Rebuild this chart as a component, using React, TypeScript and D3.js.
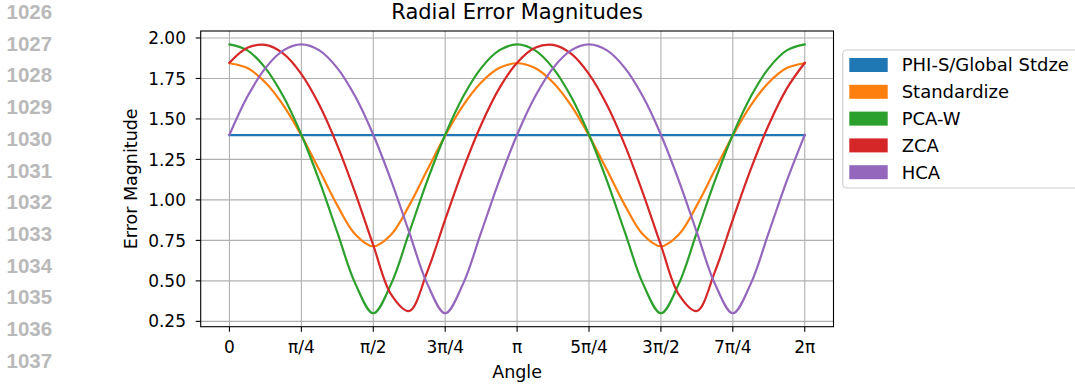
import React from "react";
import * as d3 from "d3";

// Sample angles, in sixteenths of π, from 0 to 2π
const angleSixteenths = [
  0, 1, 2, 3, 4, 5, 6, 7, 8, 9, 10, 11, 12, 13, 14, 15, 16,
  17, 18, 19, 20, 21, 22, 23, 24, 25, 26, 27, 28, 29, 30, 31, 32,
];

const phiS = [
  1.4, 1.4, 1.4, 1.4, 1.4, 1.4, 1.4, 1.4, 1.4, 1.4, 1.4, 1.4, 1.4, 1.4, 1.4, 1.4, 1.4,
  1.4, 1.4, 1.4, 1.4, 1.4, 1.4, 1.4, 1.4, 1.4, 1.4, 1.4, 1.4, 1.4, 1.4, 1.4, 1.4,
];
const standardize = [
  1.844, 1.814, 1.725, 1.584, 1.398, 1.184, 0.966, 0.787, 0.714, 0.787, 0.966, 1.184, 1.398, 1.584, 1.725, 1.814, 1.844,
  1.814, 1.725, 1.584, 1.398, 1.184, 0.966, 0.787, 0.714, 0.787, 0.966, 1.184, 1.398, 1.584, 1.725, 1.814, 1.844,
];
const pcaW = [
  1.96, 1.923, 1.814, 1.638, 1.402, 1.117, 0.799, 0.483, 0.3, 0.483, 0.799, 1.117, 1.402, 1.638, 1.814, 1.923, 1.96,
  1.923, 1.814, 1.638, 1.402, 1.117, 0.799, 0.483, 0.3, 0.483, 0.799, 1.117, 1.402, 1.638, 1.814, 1.923, 1.96,
];
const zca = [
  1.847, 1.939, 1.957, 1.903, 1.777, 1.586, 1.337, 1.042, 0.72, 0.415, 0.314, 0.556, 0.878, 1.19, 1.464, 1.687, 1.847,
  1.939, 1.957, 1.903, 1.777, 1.586, 1.337, 1.042, 0.72, 0.415, 0.314, 0.556, 0.878, 1.19, 1.464, 1.687, 1.847,
];
const hca = [
  1.402, 1.638, 1.814, 1.923, 1.96, 1.923, 1.814, 1.638, 1.402, 1.117, 0.799, 0.483, 0.3, 0.483, 0.799, 1.117, 1.402,
  1.638, 1.814, 1.923, 1.96, 1.923, 1.814, 1.638, 1.402, 1.117, 0.799, 0.483, 0.3, 0.483, 0.799, 1.117, 1.402,
];

const seriesNames = ["PHI-S/Global Stdze", "Standardize", "PCA-W", "ZCA", "HCA"];
const seriesValues = [phiS, standardize, pcaW, zca, hca];
const seriesColors = ["#1f77b4", "#ff7f0e", "#2ca02c", "#d62728", "#9467bd"];

const xTickQuarters = [0, 1, 2, 3, 4, 5, 6, 7, 8];
const xTickLabels = ["0", "π/4", "π/2", "3π/4", "π", "5π/4", "3π/2", "7π/4", "2π"];
const yTicks = [0.25, 0.5, 0.75, 1.0, 1.25, 1.5, 1.75, 2.0];

const lineNumbers = [1026, 1027, 1028, 1029, 1030, 1031, 1032, 1033, 1034, 1035, 1036, 1037, 1038];

const W = 1075;
const H = 385;
const plot = { left: 200.7, top: 31, right: 833.5, bottom: 326.7 };
const FONT = "'DejaVu Sans', sans-serif";

export default function App() {
  const span = 2 * Math.PI;
  const x = d3
    .scaleLinear()
    .domain([-0.05 * span, 1.05 * span])
    .range([plot.left, plot.right]);
  const y = d3.scaleLinear().domain([0.217, 2.043]).range([plot.bottom, plot.top]);

  const line = d3
    .line<number>()
    .x((_, i) => x((angleSixteenths[i] * Math.PI) / 16))
    .y((v) => y(v))
    .curve(d3.curveCatmullRom);

  const midX = (plot.left + plot.right) / 2;
  const midY = (plot.top + plot.bottom) / 2;

  return (
    <div style={{ position: "fixed", left: 0, top: 0 }}>
      <svg width={W} height={H} viewBox={`0 0 ${W} ${H}`} style={{ display: "block", background: "#fff" }}>
        {/* manuscript line numbers */}
        {lineNumbers.map((n, i) => (
          <text
            key={n}
            x={6.5}
            y={11.7 + i * 31.7}
            dy="0.36em"
            fontFamily="'Liberation Sans', Arial, sans-serif"
            fontWeight="bold"
            fontSize={20.5}
            fill="#b9b9b9"
          >
            {n}
          </text>
        ))}

        {/* grid */}
        <g stroke="#b0b0b0" strokeWidth={1.1}>
          {xTickQuarters.map((q) => (
            <line key={"gx" + q} x1={x((q * Math.PI) / 4)} x2={x((q * Math.PI) / 4)} y1={plot.top} y2={plot.bottom} />
          ))}
          {yTicks.map((t) => (
            <line key={"gy" + t} x1={plot.left} x2={plot.right} y1={y(t)} y2={y(t)} />
          ))}
        </g>

        {/* series */}
        <g fill="none" strokeWidth={2.2} strokeLinejoin="round" strokeLinecap="square">
          {seriesValues.map((vals, i) => (
            <path key={seriesNames[i]} d={line(vals) || ""} stroke={seriesColors[i]} />
          ))}
        </g>

        {/* frame */}
        <rect
          x={plot.left}
          y={plot.top}
          width={plot.right - plot.left}
          height={plot.bottom - plot.top}
          fill="none"
          stroke="#000"
          strokeWidth={1.1}
        />

        {/* x ticks */}
        {xTickQuarters.map((q, i) => {
          const px = x((q * Math.PI) / 4);
          return (
            <g key={"xt" + q}>
              <line x1={px} x2={px} y1={plot.bottom} y2={plot.bottom + 5} stroke="#000" strokeWidth={1.1} />
              <text x={px} y={353.3} textAnchor="middle" fontFamily={FONT} fontSize={17} fill="#000">
                {xTickLabels[i]}
              </text>
            </g>
          );
        })}

        {/* y ticks */}
        {yTicks.map((t) => (
          <g key={"yt" + t}>
            <line x1={plot.left - 5} x2={plot.left} y1={y(t)} y2={y(t)} stroke="#000" strokeWidth={1.1} />
            <text x={186} y={y(t)} dy="0.36em" textAnchor="end" fontFamily={FONT} fontSize={17} fill="#000">
              {t.toFixed(2)}
            </text>
          </g>
        ))}

        {/* labels */}
        <text x={midX} y={378} textAnchor="middle" fontFamily={FONT} fontSize={17.5} fill="#000">
          Angle
        </text>
        <text
          transform={`translate(136.7, ${midY}) rotate(-90)`}
          textAnchor="middle"
          fontFamily={FONT}
          fontSize={17.5}
          fill="#000"
        >
          Error Magnitude
        </text>
        <text x={midX} y={19.3} textAnchor="middle" fontFamily={FONT} fontSize={21} fill="#000">
          Radial Error Magnitudes
        </text>

        {/* legend */}
        <rect x={842.7} y={50} width={240} height={138} rx={4} fill="#fff" stroke="#cccccc" strokeWidth={1.1} />
        {seriesNames.map((name, i) => {
          const cy = 65 + i * 26.8;
          return (
            <g key={"lg" + name}>
              <rect x={849.3} y={cy - 7} width={38.4} height={14} fill={seriesColors[i]} />
              <text x={901.7} y={cy} dy="0.36em" fontFamily={FONT} fontSize={18} fill="#000">
                {name}
              </text>
            </g>
          );
        })}
      </svg>
    </div>
  );
}
